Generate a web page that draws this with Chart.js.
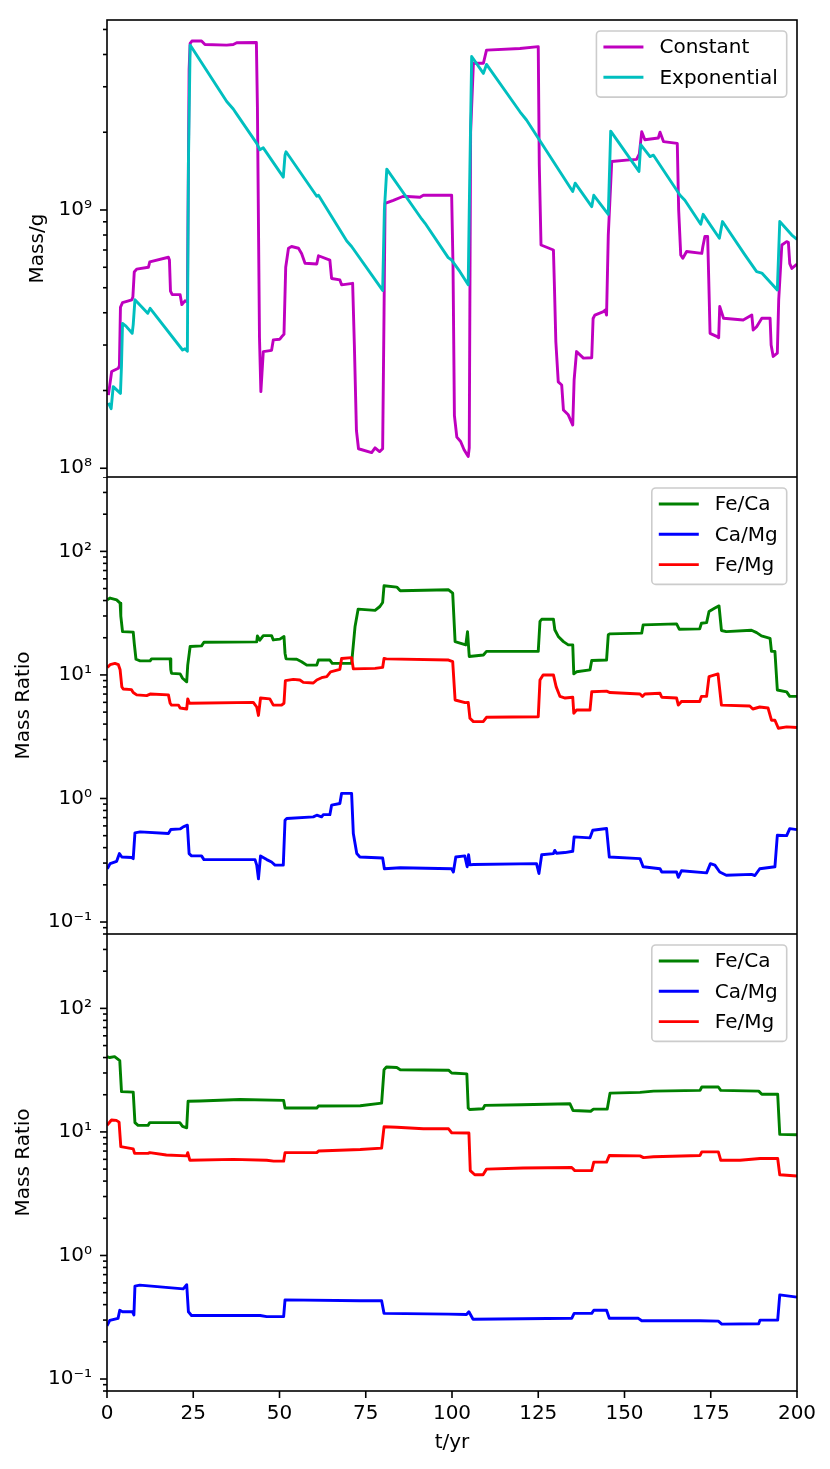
<!DOCTYPE html>
<html><head><meta charset="utf-8">
<script src="https://cdn.jsdelivr.net/npm/chart.js@4.4.1/dist/chart.umd.min.js"></script>
<style>
html,body{margin:0;padding:0;background:#fff;}
#wrap{position:relative;width:830px;height:1469px;background:#fff;}
canvas{position:absolute;left:0;}
</style></head><body>
<div id="wrap">
<canvas id="c1" width="830" height="477" style="top:0px"></canvas>
<canvas id="c2" width="830" height="457" style="top:477px"></canvas>
<canvas id="c3" width="830" height="535" style="top:934px"></canvas>
</div>
<script>
// ---------- tick values / labels ----------
const timeTicks = [0, 25, 50, 75, 100, 125, 150, 175, 200];
const massTicks = [1e8, 1e9];
const massTickLabels = ['10\u2078', '10\u2079'];
const ratioTicks = [0.1, 1, 10, 100];
const ratioTickLabels = ['10\u207B\u00B9', '10\u2070', '10\u00B9', '10\u00B2'];

// ---------- panel 1: mass [t/yr, g] ----------
const constantMass = [[0.4,1.92e8],[1.35,2.37e8],[3.3,2.44e8],[3.6,2.5e8],[3.9,4.2e8],[4.5,4.38e8],[7.2,4.49e8],[7.5,4.6e8],[7.9,5.75e8],[8.6,5.9e8],[12.0,6.0e8],[12.4,6.3e8],[17.8,6.56e8],[18.1,6.4e8],[18.4,4.85e8],[18.9,4.7e8],[21.2,4.7e8],[21.7,4.3e8],[22.6,4.45e8],[23.3,4.4e8],[23.8,3.5e9],[24.1,4.42e9],[24.6,4.51e9],[27.4,4.51e9],[28.4,4.37e9],[34.7,4.35e9],[36.6,4.37e9],[37.6,4.44e9],[43.3,4.45e9],[43.6,2.5e9],[44.2,3.2e8],[44.6,1.98e8],[45.3,2.83e8],[47.7,2.86e8],[48.2,3.14e8],[50.1,3.16e8],[50.9,3.26e8],[51.3,3.3e8],[51.8,6.0e8],[52.6,7.11e8],[53.5,7.22e8],[55.5,7.11e8],[56.4,6.79e8],[57.4,6.22e8],[60.8,6.18e8],[61.3,6.65e8],[64.6,6.4e8],[65.1,5.43e8],[67.5,5.36e8],[68.0,5.13e8],[71.2,5.2e8],[71.7,3.0e8],[72.3,1.4e8],[72.9,1.19e8],[76.7,1.15e8],[77.7,1.2e8],[79.0,1.16e8],[79.9,1.19e8],[80.3,4.0e8],[80.6,1.06e9],[83.0,1.09e9],[85.9,1.13e9],[90.7,1.12e9],[91.7,1.14e9],[99.9,1.14e9],[100.3,6.0e8],[100.7,1.6e8],[101.4,1.32e8],[102.5,1.27e8],[103.5,1.18e8],[104.7,1.11e8],[105.0,1.2e8],[105.4,2.0e9],[106.2,3.7e9],[109.1,3.7e9],[110.0,4.16e9],[119.7,4.22e9],[125.0,4.29e9],[125.3,1.5e9],[125.8,7.32e8],[129.4,7.0e8],[129.7,5.0e8],[130.1,3.09e8],[130.8,2.16e8],[131.8,2.1e8],[132.3,1.68e8],[133.7,1.61e8],[135.0,1.47e8],[135.4,2.2e8],[136.1,2.83e8],[138.1,2.67e8],[140.5,2.68e8],[140.9,3.8e8],[141.4,3.92e8],[143.9,4.04e8],[144.4,4.1e8],[144.8,3.92e8],[145.3,8.0e8],[146.3,1.54e9],[150.6,1.56e9],[153.5,1.57e9],[154.3,1.65e9],[155.0,2.01e9],[155.9,1.87e9],[159.8,1.9e9],[160.3,2.0e9],[161.3,1.84e9],[165.3,1.81e9],[165.7,1.0e9],[166.3,6.7e8],[166.9,6.5e8],[168.0,6.91e8],[172.4,6.79e8],[172.7,7.2e8],[173.3,7.89e8],[174.1,7.89e8],[174.4,5.5e8],[174.8,3.33e8],[176.7,3.24e8],[177.3,3.2e8],[177.6,4.23e8],[178.7,3.81e8],[184.4,3.75e8],[186.9,3.92e8],[187.3,3.43e8],[188.3,3.53e8],[189.8,3.81e8],[192.2,3.81e8],[192.5,3.0e8],[193.1,2.71e8],[194.3,2.79e8],[194.7,4.5e8],[195.6,7.32e8],[197.0,7.54e8],[197.5,7.5e8],[197.9,6.2e8],[198.5,5.94e8],[200,6.17e8]];
const exponentialMass = [[0.4,1.79e8],[1.2,1.7e8],[1.8,2.07e8],[3.9,1.95e8],[4.2,2.5e8],[4.5,3.64e8],[5.5,3.55e8],[7.3,3.33e8],[7.6,3.6e8],[8.1,4.49e8],[11.8,3.98e8],[12.5,4.16e8],[21.9,2.87e8],[22.6,2.9e8],[23.3,2.84e8],[23.6,1.5e9],[24.1,4.35e9],[34.7,2.63e9],[36.6,2.46e9],[37.6,2.35e9],[43.4,1.81e9],[44.3,1.71e9],[45.3,1.74e9],[51.1,1.34e9],[51.6,1.63e9],[51.9,1.68e9],[60.8,1.13e9],[61.3,1.14e9],[69.5,7.58e8],[70.9,7.22e8],[79.9,4.88e8],[80.4,1.0e9],[81.1,1.44e9],[91.2,9.23e8],[92.2,8.88e8],[98.9,6.54e8],[99.9,6.4e8],[102.3,5.77e8],[104.7,5.13e8],[105.0,1.0e9],[105.7,3.93e9],[109.1,3.38e9],[110.0,3.66e9],[119.7,2.4e9],[121.6,2.23e9],[135.0,1.18e9],[135.7,1.27e9],[140.5,1.03e9],[141.1,1.14e9],[145.3,9.62e8],[146.0,2.02e9],[154.2,1.41e9],[154.7,1.79e9],[157.4,1.61e9],[158.4,1.63e9],[166.1,1.14e9],[167.5,1.09e9],[172.1,8.81e8],[172.8,9.62e8],[177.5,7.77e8],[178.4,9.02e8],[184.9,6.7e8],[188.3,5.77e8],[189.8,5.7e8],[194.3,4.9e8],[195.0,9.02e8],[198.5,8.0e8],[200,7.7e8]];

// ---------- panel 2: mass ratios ----------
const feCa2 = [[0.1,40.6],[0.9,41.9],[2.8,40.5],[3.8,38.1],[4.0,30],[4.5,22.4],[7.6,22.2],[7.9,18],[8.4,13.4],[9.6,13.0],[12.5,13.0],[12.9,13.5],[18.3,13.5],[18.5,11],[18.7,10.3],[21.2,10.2],[21.9,9.4],[23.1,8.8],[23.4,12],[24.1,17.0],[27.4,17.2],[28.1,18.4],[43.4,18.5],[43.6,20.7],[44.3,19.1],[45.3,20.8],[47.7,20.8],[48.2,19.2],[50.1,19.5],[51.3,20.5],[51.6,15],[51.9,13.5],[55.0,13.4],[56.4,12.8],[57.9,12.0],[60.8,12.0],[61.3,13.2],[64.6,13.2],[65.3,12.4],[70.9,12.4],[71.9,24.7],[72.8,34.1],[77.7,33.3],[79.1,35.8],[79.9,38.6],[80.3,52.7],[84.0,51.4],[85.0,48.0],[99.0,48.9],[100.2,45.9],[100.9,18.6],[102.3,18.1],[104.0,17.5],[104.5,22.4],[105.0,14.1],[109.1,14.5],[110.0,15.5],[125.0,15.5],[125.5,27.1],[126.0,28.2],[129.4,28.2],[129.8,23.2],[130.8,20.5],[132.3,18.6],[133.7,17.5],[135.0,17.5],[135.3,10.2],[136.1,10.6],[140.0,11.0],[140.5,13.1],[144.8,13.2],[145.3,21.1],[145.8,21.5],[155.0,21.8],[155.4,25.4],[165.1,25.9],[165.9,23.4],[171.8,23.6],[172.3,26.2],[173.8,26.5],[174.5,32.6],[176.2,34.8],[177.4,36.2],[178.1,22.9],[179.5,22.4],[186.8,23.0],[188.3,22.0],[189.7,20.7],[192.2,19.8],[192.6,15.5],[193.6,15.5],[194.3,7.55],[197.0,7.3],[197.9,6.7],[200,6.7]];
const caMg2 = [[0.1,0.27],[0.9,0.297],[2.8,0.31],[3.6,0.358],[4.3,0.336],[7.1,0.333],[7.6,0.326],[8.1,0.527],[9.6,0.537],[17.8,0.52],[18.5,0.561],[21.2,0.567],[22.1,0.589],[23.3,0.608],[23.8,0.358],[24.5,0.343],[27.4,0.343],[28.1,0.32],[42.9,0.32],[43.4,0.289],[43.9,0.224],[44.5,0.343],[46.3,0.32],[47.7,0.306],[48.7,0.289],[51.1,0.289],[51.6,0.667],[52.1,0.689],[59.8,0.71],[60.8,0.732],[62.2,0.71],[62.7,0.74],[64.6,0.74],[65.1,0.883],[67.5,0.91],[68.0,1.10],[70.9,1.10],[71.4,0.52],[72.4,0.358],[73.3,0.336],[79.9,0.33],[80.4,0.27],[85.0,0.275],[99.9,0.27],[100.4,0.254],[101.1,0.336],[103.7,0.343],[104.4,0.28],[104.8,0.35],[105.2,0.29],[106.2,0.292],[124.5,0.297],[125.2,0.247],[126.0,0.35],[129.4,0.358],[129.8,0.38],[130.3,0.36],[132.7,0.365],[135.0,0.374],[135.4,0.489],[140.0,0.48],[140.8,0.553],[144.8,0.571],[145.6,0.336],[154.5,0.326],[155.4,0.28],[160.3,0.27],[160.8,0.254],[165.1,0.254],[165.6,0.23],[166.5,0.26],[173.8,0.25],[174.9,0.297],[176.2,0.289],[177.6,0.254],[179.5,0.239],[186.8,0.243],[187.8,0.238],[189.2,0.27],[193.6,0.28],[194.3,0.504],[197.0,0.5],[197.9,0.57],[200,0.56]];
const feMg2 = [[0.1,11.5],[0.9,12.1],[2.3,12.4],[3.3,12.1],[3.8,11.0],[4.3,8.0],[4.7,7.7],[7.1,7.6],[7.6,7.2],[8.6,6.9],[11.5,6.8],[12.5,7.0],[17.8,6.9],[18.3,5.9],[18.7,5.7],[20.7,5.7],[21.2,5.4],[23.1,5.3],[23.4,6.4],[23.9,5.9],[42.4,6.0],[43.4,5.5],[43.9,4.7],[44.5,6.5],[47.2,6.4],[48.2,5.7],[50.6,5.7],[51.3,5.9],[51.7,9.0],[54.0,9.2],[55.9,9.1],[56.9,8.7],[59.8,8.6],[60.8,9.1],[62.2,9.5],[63.7,9.7],[64.8,10.6],[67.5,11.1],[68.0,13.6],[70.9,13.8],[71.4,11.2],[77.7,11.3],[79.9,11.5],[80.3,13.6],[81.0,13.5],[99.0,13.2],[100.2,12.8],[100.9,6.27],[103.8,5.97],[104.7,6.0],[105.2,4.46],[106.2,4.19],[109.1,4.2],[110.0,4.54],[125.0,4.59],[125.5,9.1],[126.4,10.0],[129.4,10.0],[130.2,8.0],[131.3,6.7],[132.8,6.5],[135.0,6.6],[135.3,4.9],[136.1,5.2],[140.0,5.2],[140.5,7.3],[144.8,7.4],[145.8,7.2],[154.5,7.0],[155.2,6.7],[155.9,7.0],[160.3,7.1],[160.8,6.6],[165.1,6.5],[165.6,5.7],[166.5,6.1],[171.8,6.1],[172.3,6.7],[173.8,6.7],[174.5,9.7],[177.1,10.2],[178.1,5.7],[186.3,5.6],[187.2,5.3],[189.2,5.5],[191.6,5.4],[192.6,4.3],[193.6,4.3],[194.6,3.7],[197.0,3.8],[200,3.75]];

// ---------- panel 3: mass ratios ----------
const feCa3 = [[0,40.7],[0.8,40.0],[2.2,40.7],[3.7,37.8],[4.2,21.2],[7.6,21.0],[8.1,11.9],[9.0,11.3],[11.9,11.3],[12.4,11.9],[21.1,11.9],[21.9,11.1],[23.1,10.8],[23.5,17.7],[26.9,17.8],[38.6,18.3],[51.2,18.0],[51.6,15.6],[60.8,15.6],[61.3,16.2],[73.4,16.3],[79.6,17.1],[80.3,31.9],[81.0,33.5],[84.0,33.2],[85.0,31.9],[99.0,31.6],[99.9,30.0],[104.3,29.5],[104.7,15.6],[105.1,15.2],[109.0,15.4],[109.5,16.4],[120.1,16.6],[134.2,16.9],[135.1,14.9],[140.2,14.7],[141.0,15.3],[145.0,15.3],[145.8,20.6],[154.5,20.9],[158.4,21.4],[171.9,21.7],[172.4,23.1],[177.2,23.1],[177.9,21.7],[188.9,21.4],[189.8,20.2],[194.4,20.2],[195.0,9.55],[200,9.5]];
const caMg3 = [[0,0.27],[0.8,0.298],[3.2,0.31],[3.7,0.36],[4.5,0.35],[7.4,0.35],[7.8,0.33],[8.1,0.565],[9.5,0.576],[22.1,0.537],[23.1,0.58],[23.6,0.35],[24.5,0.327],[44.4,0.327],[46.3,0.32],[51.2,0.32],[51.6,0.437],[73.4,0.43],[79.6,0.43],[80.3,0.34],[99.0,0.335],[104.2,0.333],[104.9,0.35],[106.1,0.305],[134.7,0.31],[135.4,0.34],[140.5,0.34],[141.1,0.36],[144.8,0.36],[145.6,0.31],[154.0,0.31],[155.0,0.296],[171.9,0.296],[177.2,0.294],[178.2,0.278],[188.9,0.28],[189.3,0.30],[194.4,0.30],[195.0,0.48],[200,0.46]];
const feMg3 = [[0,11.3],[1.3,12.5],[2.7,12.4],[3.5,12.0],[4.0,7.6],[7.6,7.3],[8.0,6.7],[11.9,6.7],[12.4,6.8],[17.2,6.5],[23.1,6.4],[23.4,6.8],[24.0,5.9],[36.6,6.0],[46.3,5.9],[48.3,5.8],[51.2,5.8],[51.6,6.8],[60.8,6.8],[61.3,7.0],[73.4,7.2],[79.6,7.4],[80.3,11.0],[84.0,10.9],[91.7,10.6],[99.0,10.6],[99.9,9.85],[104.9,9.8],[105.3,4.86],[106.6,4.5],[109.0,4.5],[110.0,5.0],[120.6,5.1],[134.7,5.15],[135.6,4.86],[140.5,4.86],[141.1,5.7],[144.8,5.7],[145.6,6.45],[154.5,6.4],[155.5,6.2],[158.4,6.3],[171.9,6.45],[172.4,6.9],[177.2,6.9],[177.9,5.9],[183.5,5.9],[189.3,6.1],[194.4,6.1],[195.0,4.5],[200,4.4]];

// ---------- styling ----------
const FONT = "'DejaVu Sans', sans-serif";
Chart.defaults.font.family = FONT;
Chart.defaults.font.size = 20;
Chart.defaults.color = '#000';
const LINE_W = 2.9;

const toPts = arr => arr.map(p => ({x: p[0], y: p[1]}));

const framePlugin = {
  id: 'frame',
  afterDraw(chart, args, opts) {
    const {ctx, chartArea: a} = chart;
    const ys = chart.scales.y, xs = chart.scales.x;
    ctx.save();
    ctx.strokeStyle = '#000';
    ctx.lineWidth = 1.6;
    const lo = Math.floor(Math.log10(ys.min)), hi = Math.ceil(Math.log10(ys.max));
    for (let e = lo; e <= hi; e++) {
      for (let m = 1; m < 10; m++) {
        const v = m * Math.pow(10, e);
        if (v < ys.min || v > ys.max) continue;
        const py = ys.getPixelForValue(v);
        const len = m === 1 ? 7 : 4;
        ctx.beginPath(); ctx.moveTo(a.left, py); ctx.lineTo(a.left - len, py); ctx.stroke();
      }
    }
    if (opts.xTicks) {
      for (const v of timeTicks) {
        const px = xs.getPixelForValue(v);
        ctx.beginPath(); ctx.moveTo(px, a.bottom); ctx.lineTo(px, a.bottom + 7); ctx.stroke();
      }
    }
    ctx.strokeRect(a.left, a.top, a.right - a.left, a.bottom - a.top);

    // legend (matplotlib style, upper right)
    const ds = chart.data.datasets;
    ctx.font = '20px ' + FONT;
    let maxW = 0;
    ds.forEach(d => { maxW = Math.max(maxW, ctx.measureText(d.label).width); });
    const rowH = 30.3;
    const w = 7 + 40 + 16 + maxW + 9;
    const h = rowH * ds.length + 5.5;
    const right = a.right - 10.3, top = a.top + 11;
    const left = right - w;
    const r = 4;
    ctx.beginPath();
    ctx.moveTo(left + r, top);
    ctx.lineTo(right - r, top); ctx.arcTo(right, top, right, top + r, r);
    ctx.lineTo(right, top + h - r); ctx.arcTo(right, top + h, right - r, top + h, r);
    ctx.lineTo(left + r, top + h); ctx.arcTo(left, top + h, left, top + h - r, r);
    ctx.lineTo(left, top + r); ctx.arcTo(left, top, left + r, top, r);
    ctx.closePath();
    ctx.fillStyle = 'rgba(255,255,255,0.8)';
    ctx.fill();
    ctx.strokeStyle = '#cccccc';
    ctx.lineWidth = 1.6;
    ctx.stroke();
    ds.forEach((d, i) => {
      const cy = top + 16 + i * rowH;
      ctx.strokeStyle = d.borderColor;
      ctx.lineWidth = LINE_W;
      ctx.beginPath(); ctx.moveTo(left + 7, cy); ctx.lineTo(left + 47, cy); ctx.stroke();
      ctx.fillStyle = '#000';
      ctx.textAlign = 'left';
      ctx.textBaseline = 'middle';
      ctx.fillText(d.label, left + 63, cy + 1);
    });
    ctx.restore();
  }
};

function lineDs(label, arr, color, order) {
  return {label, data: toPts(arr), borderColor: color, backgroundColor: color,
    borderWidth: LINE_W, pointRadius: 0, tension: 0, fill: false, order,
    borderJoinStyle: 'round', borderCapStyle: 'butt'};
}

function makeChart(id, datasets, yCfg, bottom, topPad) {
  return new Chart(document.getElementById(id), {
    type: 'line',
    data: {datasets},
    plugins: [framePlugin],
    options: {
      responsive: false, maintainAspectRatio: false, animation: false, devicePixelRatio: 1,
      layout: {padding: {left: 0, right: 33, top: topPad, bottom: 0}},
      plugins: {legend: {display: false}, tooltip: {enabled: false}, frame: {xTicks: bottom}},
      scales: {
        x: {
          type: 'linear', min: 0, max: 200, display: bottom,
          afterFit(s) {
            s.height = bottom ? 78 : 0;
            s.paddingLeft = 0; s.paddingRight = 0; s.paddingTop = 0; s.paddingBottom = 0;
          },
          afterBuildTicks(s) { s.ticks = timeTicks.map(v => ({value: v})); },
          ticks: {padding: 11, maxRotation: 0, autoSkip: false, color: '#000', font: {size: 20}},
          grid: {display: false, drawTicks: false},
          border: {display: false},
          title: {display: true, text: 't/yr', color: '#000', font: {size: 20}, padding: {top: 0, bottom: 14}}
        },
        y: {
          type: 'logarithmic', min: yCfg.min, max: yCfg.max,
          afterFit(s) {
            s.width = 107;
            s.paddingLeft = 0; s.paddingRight = 0; s.paddingTop = 0; s.paddingBottom = 0;
          },
          afterBuildTicks(s) { s.ticks = yCfg.ticks.map(v => ({value: v})); },
          ticks: {
            padding: 15, autoSkip: false, color: '#000', font: {size: 20},
            callback: v => { const i = yCfg.ticks.findIndex(t => Math.abs(t - v) / t < 1e-6); return i >= 0 ? yCfg.labels[i] : ''; }
          },
          grid: {display: false, drawTicks: false},
          border: {display: false},
          title: {display: true, text: yCfg.title, color: '#000', font: {size: 20}, padding: {top: yCfg.titlePad, bottom: 0}}
        }
      }
    }
  });
}

makeChart('c1', [
  lineDs('Constant', constantMass, '#bf00bf', 1),
  lineDs('Exponential', exponentialMass, '#00bfbf', 0)
], {min: 9.25e7, max: 5.44e9, ticks: massTicks, labels: massTickLabels, title: 'Mass/g', titlePad: 26}, false, 20);

makeChart('c2', [
  lineDs('Fe/Ca', feCa2, '#008000', 2),
  lineDs('Ca/Mg', caMg2, '#0000ff', 1),
  lineDs('Fe/Mg', feMg2, '#ff0000', 0)
], {min: 0.08, max: 400, ticks: ratioTicks, labels: ratioTickLabels, title: 'Mass Ratio', titlePad: 12}, false, 0);

makeChart('c3', [
  lineDs('Fe/Ca', feCa3, '#008000', 2),
  lineDs('Ca/Mg', caMg3, '#0000ff', 1),
  lineDs('Fe/Mg', feMg3, '#ff0000', 0)
], {min: 0.08, max: 400, ticks: ratioTicks, labels: ratioTickLabels, title: 'Mass Ratio', titlePad: 12}, true, 0);
</script>
</body></html>
